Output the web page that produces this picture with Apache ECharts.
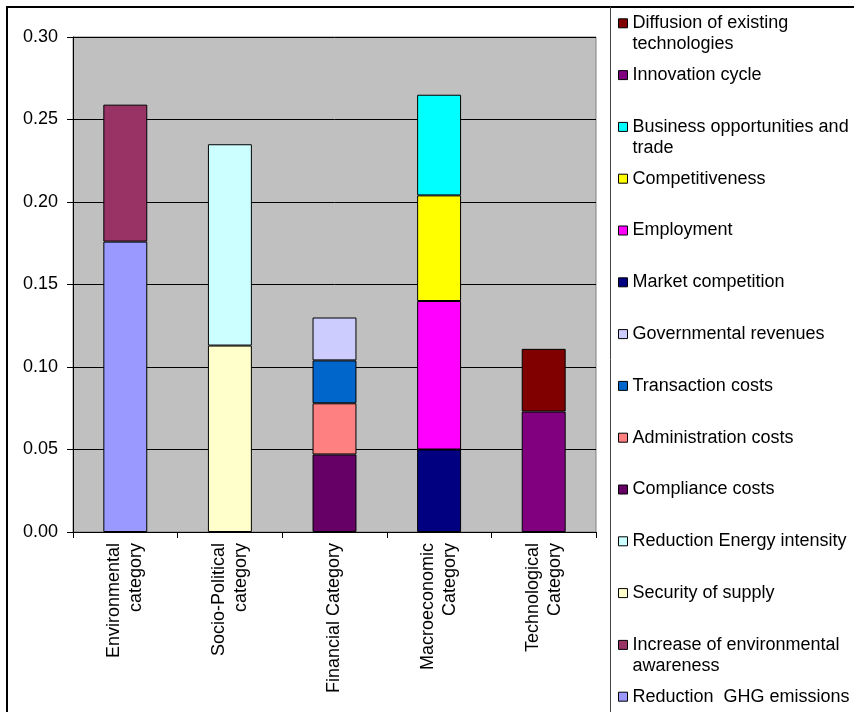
<!DOCTYPE html>
<html>
<head>
<meta charset="utf-8">
<script src="https://cdn.jsdelivr.net/npm/echarts@6/dist/echarts.min.js"></script>
<style>
    html, body { margin: 0; padding: 0; background: #fff; }
    #main { width: 854px; height: 712px; }
</style>
</head>
<body>
<div id="main"></div>
<script>
var categories = ['Environmental\ncategory', 'Socio-Political\ncategory', 'Financial Category', 'Macroeconomic\nCategory', 'Technological\nCategory'];

// stack order, bottom to top
var seriesNames = [
    'Reduction  GHG emissions', 'Increase of environmental awareness',
    'Security of supply', 'Reduction Energy intensity',
    'Compliance costs', 'Administration costs', 'Transaction costs', 'Governmental revenues',
    'Market competition', 'Employment', 'Competitiveness', 'Business opportunities and trade',
    'Innovation cycle', 'Diffusion of existing technologies'
];
var seriesCategory = [0, 0, 1, 1, 2, 2, 2, 2, 3, 3, 3, 3, 4, 4];
var seriesValues = [0.176, 0.083, 0.113, 0.122, 0.047, 0.031, 0.026, 0.026, 0.050, 0.090, 0.064, 0.061, 0.073, 0.038];

var yTicks = [0, 0.05, 0.10, 0.15, 0.20, 0.25, 0.30];

var seriesColors = [
    '#9999FF', '#993366', '#FFFFCC', '#CCFFFF', '#660066', '#FF8080', '#0066CC',
    '#CCCCFF', '#000080', '#FF00FF', '#FFFF00', '#00FFFF', '#800080', '#800000'
];
var wrapped = {
    'Diffusion of existing technologies': 'Diffusion of existing\ntechnologies',
    'Business opportunities and trade': 'Business opportunities and\ntrade',
    'Increase of environmental awareness': 'Increase of environmental\nawareness'
};

var font = 'Liberation Sans, Arial, sans-serif';

var series = seriesNames.map(function (name, i) {
    var data = categories.map(function (c, k) {
        return k === seriesCategory[i] ? seriesValues[i] : '-';
    });
    return {
        name: name,
        type: 'bar',
        stack: 'total',
        barCategoryGap: '58%',
        data: data,
        itemStyle: { color: seriesColors[i], borderColor: '#000', borderWidth: 1 },
        emphasis: { disabled: true }
    };
});

// one legend per entry so every row keeps the same pitch;
// wrapped names get an empty first line so their first text line sits on the swatch
var legendNames = seriesNames.slice().reverse();
var legends = legendNames.map(function (name, i) {
    var center = 23.3 + 51.8 * i;
    var twoLine = !!wrapped[name];
    return {
        data: [name],
        orient: 'vertical',
        left: 618,
        top: center - 10.5 - (twoLine ? 21 : 0),
        padding: 0,
        icon: 'rect',
        itemWidth: 9,
        itemHeight: 9,
        selectedMode: false,
        itemStyle: { borderColor: '#000', borderWidth: 1 },
        formatter: function (n) { return wrapped[n] ? ' \n' + wrapped[n] : n; },
        textStyle: {
            fontFamily: font,
            fontSize: 18,
            color: '#000',
            lineHeight: 21
        }
    };
});

var chart = echarts.init(document.getElementById('main'));
chart.setOption({
    animation: false,
    backgroundColor: '#fff',
    legend: legends,
    grid: {
        left: 73,
        right: 258,
        top: 37,
        bottom: 180,
        show: true,
        backgroundColor: '#C0C0C0',
        borderColor: '#808080',
        borderWidth: 1
    },
    xAxis: {
        type: 'category',
        data: categories,
        axisLine: { lineStyle: { color: '#000', width: 1 } },
        axisTick: { show: true, length: 6, interval: 0, lineStyle: { color: '#000' } },
        axisLabel: {
            rotate: 90,
            interval: 0,
            margin: 11,
            fontFamily: font,
            fontSize: 18,
            lineHeight: 22,
            color: '#000'
        },
        splitLine: { show: false }
    },
    yAxis: {
        type: 'value',
        min: yTicks[0],
        max: yTicks[yTicks.length - 1],
        interval: 0.05,
        axisLine: { show: true, lineStyle: { color: '#000', width: 1 } },
        axisTick: { show: true, length: 6, lineStyle: { color: '#000' } },
        axisLabel: {
            margin: 15,
            fontFamily: font,
            fontSize: 18,
            color: '#000',
            formatter: function (v) { return v.toFixed(2); }
        },
        splitLine: { show: true, lineStyle: { color: '#000', width: 1 } }
    },
    graphic: [
        {
            type: 'rect',
            shape: { x: 7, y: 7, width: 1000, height: 1000 },
            style: { fill: null, stroke: '#000', lineWidth: 2 },
            silent: true
        },
        {
            type: 'line',
            shape: { x1: 610.5, y1: 7, x2: 610.5, y2: 712 },
            style: { stroke: '#444', lineWidth: 1 },
            silent: true
        }
    ],
    series: series
});
</script>
</body>
</html>
